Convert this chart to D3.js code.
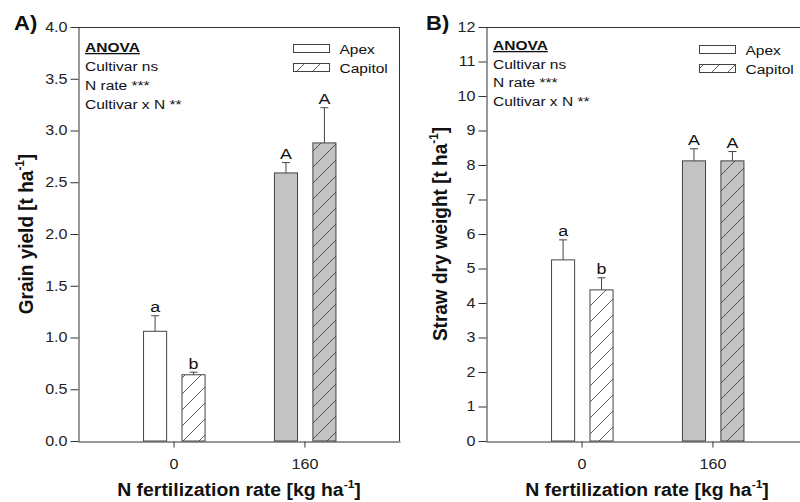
<!DOCTYPE html>
<html>
<head>
<meta charset="utf-8">
<script src="https://cdn.jsdelivr.net/npm/d3@7"></script>
<style>
  html, body { margin: 0; padding: 0; background: #fff; }
  svg { display: block; font-family: "Liberation Sans", Arial, sans-serif; }
</style>
</head>
<body>
<svg id="chart" width="800" height="502"></svg>
<script>
// ---- data ----
const rates = ["0", "160"];
const cultivars = ["Apex", "Capitol"];

const grainApex = [1.06, 2.59];
const grainCapitol = [0.64, 2.88];
const grainErrApex = [0.15, 0.10];
const grainErrCapitol = [0.025, 0.34];
const grainLettersApex = ["a", "A"];
const grainLettersCapitol = ["b", "A"];
const grainTicks = [0, 0.5, 1, 1.5, 2, 2.5, 3, 3.5, 4];

const strawApex = [5.25, 8.12];
const strawCapitol = [4.38, 8.12];
const strawErrApex = [0.58, 0.35];
const strawErrCapitol = [0.35, 0.27];
const strawLettersApex = ["a", "A"];
const strawLettersCapitol = ["b", "A"];
const strawTicks = [0, 1, 2, 3, 4, 5, 6, 7, 8, 9, 10, 11, 12];

const anovaLines = ["Cultivar ns", "N rate ***", "Cultivar x N **"];

// ---- helpers ----
const SX = 1.15;            // horizontal text stretch
const INK = "#111";
const AXIS = "#333";
const BAR_STROKE = "#444";
const GRAY = "#c3c3c3";

const svg = d3.select("#chart");
const defs = svg.append("defs");

function hatch(id, bg) {
  const p = defs.append("pattern")
    .attr("id", id).attr("patternUnits", "userSpaceOnUse")
    .attr("width", 16).attr("height", 16);
  p.append("rect").attr("width", 16).attr("height", 16).attr("fill", bg);
  p.append("path")
    .attr("d", "M0,16 L16,0 M-4,4 L4,-4 M12,20 L20,12")
    .attr("stroke", "#333").attr("stroke-width", 0.8);
}
hatch("hatchWhite", "#fff");
hatch("hatchGray", GRAY);

function label(g, x, y, parts, o) {
  const grp = g.append("g")
    .attr("transform", `translate(${x},${y}) scale(${o.sx || SX},1)` + (o.rotate ? ` rotate(${o.rotate})` : ""));
  const t = grp.append("text")
    .attr("text-anchor", o.anchor || "start")
    .attr("fill", INK)
    .style("font-size", o.size + "px")
    .style("font-weight", o.weight || "normal");
  if (o.underline) t.style("text-decoration", "underline");
  parts.forEach(p => {
    if (typeof p === "string") t.append("tspan").text(p);
    else t.append("tspan").attr("dy", p.dy).style("font-size", p.size + "px").text(p.text);
  });
  return grp;
}

function supParts(before, sup, after, size) {
  return [before, { text: sup, dy: -size * 0.42, size: size * 0.62 }, { text: after, dy: size * 0.42, size: size }];
}

function panel(cfg) {
  const g = svg.append("g");
  const { left, right, top, bottom } = cfg;

  const x = d3.scalePoint().domain(rates).range([left, right]).padding(0.73);
  const xi = d3.scaleBand().domain(cultivars).range([-30, 31.5]).paddingInner(0.4);
  const y = d3.scaleLinear().domain([0, cfg.max]).range([bottom, top]);

  const rows = [];
  rates.forEach((r, i) => {
    rows.push({ rate: r, cv: "Apex", v: cfg.apex[i], e: cfg.errApex[i], l: cfg.lettersApex[i], idx: i });
    rows.push({ rate: r, cv: "Capitol", v: cfg.capitol[i], e: cfg.errCapitol[i], l: cfg.lettersCapitol[i], idx: i });
  });
  const fillOf = d => {
    const high = d.idx === 1;
    if (d.cv === "Apex") return high ? GRAY : "#fff";
    return high ? "url(#hatchGray)" : "url(#hatchWhite)";
  };
  const cxOf = d => x(d.rate) + xi(d.cv) + xi.bandwidth() / 2;

  // error bars (upper only)
  const eb = g.append("g").attr("stroke", "#444").attr("stroke-width", 1);
  rows.forEach(d => {
    const cx = cxOf(d);
    eb.append("line").attr("x1", cx).attr("x2", cx).attr("y1", y(d.v)).attr("y2", y(d.v + d.e));
    eb.append("line").attr("x1", cx - 4).attr("x2", cx + 4).attr("y1", y(d.v + d.e)).attr("y2", y(d.v + d.e));
  });

  // bars
  g.append("g").selectAll("rect").data(rows).join("rect")
    .attr("x", d => x(d.rate) + xi(d.cv))
    .attr("width", xi.bandwidth())
    .attr("y", d => y(d.v))
    .attr("height", d => y(0) - y(d.v))
    .attr("fill", fillOf)
    .attr("stroke", BAR_STROKE).attr("stroke-width", 1);

  // significance letters
  rows.forEach(d => label(g, cxOf(d), y(d.v + d.e) - 3.5, [d.l], { size: 15.5, anchor: "middle" }));

  // frame: top and right
  g.append("line").attr("x1", left).attr("x2", right).attr("y1", top + 0.5).attr("y2", top + 0.5)
    .attr("stroke", AXIS).attr("stroke-width", 1);
  g.append("line").attr("x1", right - 0.5).attr("x2", right - 0.5).attr("y1", top).attr("y2", bottom)
    .attr("stroke", AXIS).attr("stroke-width", 1);

  // y axis
  const ya = g.append("g").attr("transform", `translate(${left + 0.5},0)`)
    .call(d3.axisLeft(y).tickValues(cfg.ticks).tickFormat(d3.format(cfg.fmt)).tickSize(8).tickSizeOuter(0).tickPadding(3));
  ya.select(".domain").attr("stroke", AXIS);
  ya.selectAll(".tick line").attr("stroke", AXIS);
  ya.selectAll(".tick text")
    .attr("fill", "#222").style("font-size", "14px").style("font-family", "Liberation Sans, Arial, sans-serif")
    .attr("x", -11 / SX).attr("transform", `scale(${SX},1)`);

  // x axis
  const xa = g.append("g").attr("transform", `translate(0,${bottom + 0.5})`)
    .call(d3.axisBottom(x).tickSize(6).tickSizeOuter(0).tickPadding(12));
  xa.select(".domain").attr("stroke", AXIS);
  xa.selectAll(".tick line").attr("stroke", AXIS);
  xa.selectAll(".tick text")
    .attr("fill", "#222").style("font-size", "14px").style("font-family", "Liberation Sans, Arial, sans-serif")
    .attr("transform", `scale(${SX},1)`);

  // axis titles
  label(g, (left + right) / 2, 496, supParts("N fertilization rate [kg ha", "-1", "]", 18.5), { size: 18.5, weight: "bold", anchor: "middle", sx: 1.05 });
  label(g, cfg.yTitleX, (top + bottom) / 2, supParts(cfg.yTitle, "-1", "]", 19), { size: 19, weight: "bold", anchor: "middle", rotate: -90, sx: 1.1 });

  // panel tag
  label(g, cfg.tagX, 30, [cfg.tag], { size: 20, weight: "bold", sx: 1.1 });

  // ANOVA block
  const ax = left + 7;
  label(g, ax, cfg.anovaY, ["ANOVA"], { size: 13.5, weight: "bold", underline: true });
  anovaLines.forEach((s, i) => label(g, ax, cfg.anovaY + cfg.anovaStep * (i + 1), [s], { size: 13.5 }));

  // legend
  const lg = g.append("g");
  const lx = cfg.legX, lw = 36, lh = 8;
  [["Apex", "#fff", cfg.legY], ["Capitol", "url(#hatchWhite)", cfg.legY + 19]].forEach(([name, fill, ly]) => {
    lg.append("rect").attr("x", lx).attr("y", ly).attr("width", lw).attr("height", lh)
      .attr("fill", fill).attr("stroke", BAR_STROKE).attr("stroke-width", 1);
    label(lg, lx + lw + 10, ly + 9, [name], { size: 13.5 });
  });
}

panel({
  left: 78, right: 400, top: 27, bottom: 441, max: 4,
  apex: grainApex, capitol: grainCapitol,
  errApex: grainErrApex, errCapitol: grainErrCapitol,
  lettersApex: grainLettersApex, lettersCapitol: grainLettersCapitol,
  ticks: grainTicks, fmt: ".1f",
  yTitle: "Grain yield [t ha", yTitleX: 33,
  tag: "A)", tagX: 14,
  anovaY: 52, anovaStep: 19,
  legX: 293.5, legY: 44.5
});

panel({
  left: 486, right: 808, top: 27, bottom: 441, max: 12,
  apex: strawApex, capitol: strawCapitol,
  errApex: strawErrApex, errCapitol: strawErrCapitol,
  lettersApex: strawLettersApex, lettersCapitol: strawLettersCapitol,
  ticks: strawTicks, fmt: "d",
  yTitle: "Straw dry weight [t ha", yTitleX: 446.5,
  tag: "B)", tagX: 426,
  anovaY: 50, anovaStep: 18.5,
  legX: 699.5, legY: 45.5
});
</script>
</body>
</html>
